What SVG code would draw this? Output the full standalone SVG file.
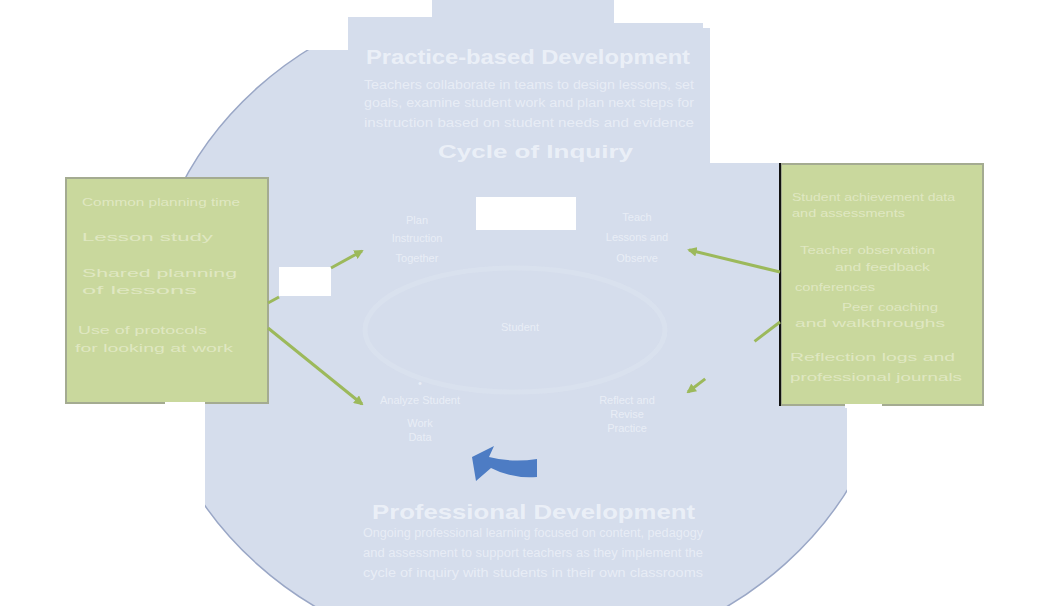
<svg xmlns="http://www.w3.org/2000/svg" width="1047" height="606" viewBox="0 0 1047 606">
<defs>
<style>
.bg{fill:#d5ddec}
.w{fill:#ffffff}
.t{font-family:"Liberation Sans",Arial,sans-serif;fill:#eef2f9;fill-opacity:0.75}
.tt{font-family:"Liberation Sans",Arial,sans-serif;font-weight:bold;fill:#eef2f9;fill-opacity:0.9}
.g{font-family:"Liberation Sans",Arial,sans-serif;fill:#e9efd3;fill-opacity:0.7;font-size:11px}
.n{font-family:"Liberation Sans",Arial,sans-serif;fill:#eef2f9;fill-opacity:0.8;font-size:11px;text-anchor:middle}
.box{fill:#c9d89d;stroke:#a4ab91;stroke-width:2}
.conn{stroke:#9cb95b;stroke-width:3;fill:none;marker-end:url(#ah)}
</style>
<marker id="ah" viewBox="0 0 10 10" refX="8" refY="5" markerWidth="3.2" markerHeight="3.2" orient="auto">
<path d="M0,0 L10,5 L0,10 z" fill="#9cb95b"/>
</marker>
</defs>
<rect width="1047" height="606" fill="#ffffff"/>
<g id="background">
<ellipse cx="521" cy="326" rx="374" ry="336" class="bg" stroke="#9aa7c6" stroke-width="1.5"/>
<rect x="0" y="0" width="348" height="50" class="w"/>
<rect x="348" y="0" width="84" height="17" class="w"/>
<rect x="614" y="0" width="96" height="23" class="w"/>
<rect x="710" y="0" width="337" height="163" class="w"/>
<rect x="0" y="404" width="205" height="202" class="w"/>
<rect x="847" y="405" width="200" height="201" class="w"/>
<path d="M348,17 L432,17 L432,0 L614,0 L614,23 L703,23 L703,28 L710,28 L710,163 L847,163 L847,480 L205,480 L205,163 L348,163 Z" class="bg"/>
<ellipse cx="515" cy="330" rx="150" ry="62" fill="none" stroke="#eef2f9" stroke-opacity="0.18" stroke-width="5"/>
</g>
<g id="top-text">
<text class="tt" x="366" y="64" font-size="21" textLength="324" lengthAdjust="spacingAndGlyphs">Practice-based Development</text>
<text class="t" x="364" y="89" font-size="12" textLength="330" lengthAdjust="spacingAndGlyphs">Teachers collaborate in teams to design lessons, set</text>
<text class="t" x="364" y="107" font-size="12" textLength="330" lengthAdjust="spacingAndGlyphs">goals, examine student work and plan next steps for</text>
<text class="t" x="364" y="127" font-size="12" textLength="330" lengthAdjust="spacingAndGlyphs">instruction based on student needs and evidence</text>
<text class="tt" x="438" y="158" font-size="18" textLength="195" lengthAdjust="spacingAndGlyphs">Cycle of Inquiry</text>
</g>
<g id="bottom-text">
<text class="tt" x="372" y="519" font-size="21" textLength="323" lengthAdjust="spacingAndGlyphs">Professional Development</text>
<text class="t" x="363" y="537" font-size="12" textLength="340" lengthAdjust="spacingAndGlyphs">Ongoing professional learning focused on content, pedagogy</text>
<text class="t" x="363" y="557" font-size="12" textLength="340" lengthAdjust="spacingAndGlyphs">and assessment to support teachers as they implement the</text>
<text class="t" x="363" y="577" font-size="12" textLength="340" lengthAdjust="spacingAndGlyphs">cycle of inquiry with students in their own classrooms</text>
</g>
<g id="masks">
<rect x="476" y="197" width="100" height="33" class="w"/>
<rect x="279" y="267" width="52" height="29" class="w"/>
</g>
<g id="node-plan">
<text class="n" x="417" y="224">Plan</text>
<text class="n" x="417" y="242">Instruction</text>
<text class="n" x="417" y="262">Together</text>
</g>
<g id="node-teach">
<text class="n" x="637" y="221">Teach</text>
<text class="n" x="637" y="241">Lessons and</text>
<text class="n" x="637" y="262">Observe</text>
</g>
<g id="node-center">
<text class="n" x="520" y="331">Student</text>
</g>
<g id="node-analyze">
<text class="n" x="420" y="387">•</text>
<text class="n" x="420" y="404">Analyze Student</text>
<text class="n" x="420" y="427">Work</text>
<text class="n" x="420" y="441">Data</text>
</g>
<g id="node-reflect">
<text class="n" x="627" y="404">Reflect and</text>
<text class="n" x="627" y="418">Revise</text>
<text class="n" x="627" y="432">Practice</text>
</g>
<g id="left-box">
<rect x="66" y="178" width="202" height="225" class="box"/>
<text class="g" x="82" y="206" textLength="158" lengthAdjust="spacingAndGlyphs">Common planning time</text>
<text class="g" x="82" y="241" textLength="131" lengthAdjust="spacingAndGlyphs">Lesson study</text>
<text class="g" x="82" y="277" textLength="155" lengthAdjust="spacingAndGlyphs">Shared planning</text>
<text class="g" x="82" y="294" textLength="115" lengthAdjust="spacingAndGlyphs">of lessons</text>
<text class="g" x="78" y="334" textLength="129" lengthAdjust="spacingAndGlyphs">Use of protocols</text>
<text class="g" x="75" y="352" textLength="158" lengthAdjust="spacingAndGlyphs">for looking at work</text>
<rect x="165" y="402" width="40" height="4" class="w"/>
</g>
<g id="right-box">
<rect x="781" y="164" width="202" height="241" class="box"/>
<line x1="780" y1="163" x2="780" y2="406" stroke="#111111" stroke-width="2"/>
<text class="g" x="792" y="201" textLength="163" lengthAdjust="spacingAndGlyphs">Student achievement data</text>
<text class="g" x="792" y="217" textLength="113" lengthAdjust="spacingAndGlyphs">and assessments</text>
<text class="g" x="800" y="254" textLength="135" lengthAdjust="spacingAndGlyphs">Teacher observation</text>
<text class="g" x="835" y="271" textLength="95" lengthAdjust="spacingAndGlyphs">and feedback</text>
<text class="g" x="795" y="291" textLength="80" lengthAdjust="spacingAndGlyphs">conferences</text>
<text class="g" x="842" y="311" textLength="96" lengthAdjust="spacingAndGlyphs">Peer coaching</text>
<text class="g" x="795" y="327" textLength="150" lengthAdjust="spacingAndGlyphs">and walkthroughs</text>
<text class="g" x="790" y="361" textLength="165" lengthAdjust="spacingAndGlyphs">Reflection logs and</text>
<text class="g" x="790" y="381" textLength="172" lengthAdjust="spacingAndGlyphs">professional journals</text>
<rect x="845" y="404" width="37" height="4" class="w"/>
</g>
<g id="connectors">
<line class="conn" x1="331" y1="268" x2="362" y2="251"/>
<line x1="268" y1="303" x2="279" y2="297" stroke="#9cb95b" stroke-width="3"/>
<line class="conn" x1="268" y1="328" x2="362" y2="404"/>
<line class="conn" x1="780" y1="272" x2="689" y2="250"/>
<line class="conn" x1="780" y1="322" x2="688" y2="392" stroke-dasharray="32 62 40"/>
<path d="M537,459 L537,477 Q512,479 491,468 L476,481 L472,457 L494,446 L489,457 Q512,463 537,459 Z" fill="#4d7cc4"/>
</g>
</svg>
